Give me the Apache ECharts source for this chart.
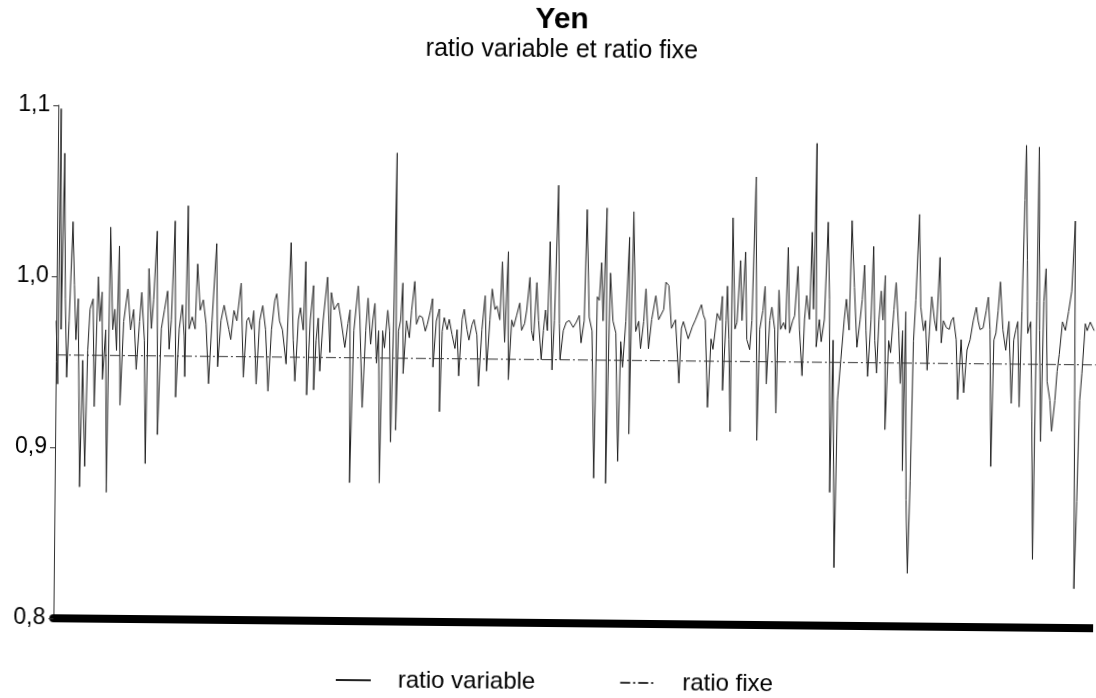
<!DOCTYPE html>
<html>
<head>
<meta charset="utf-8">
<title>Yen</title>
<script src="https://cdn.jsdelivr.net/npm/echarts@6/dist/echarts.min.js"></script>
<style>
  html, body { margin: 0; padding: 0; background: #fff; overflow: hidden; }
  /* the scanned original is tilted a little, so the chart is too */
  #main { width: 1096px; height: 698px; transform: rotate(0.55deg); transform-origin: 548px 349px; }
</style>
</head>
<body>
<div id="main"></div>
<script>
var obs = [
  0, 2, 3, 5, 7, 9, 11, 13, 16, 18,
  20, 22, 25, 27, 30, 32, 34, 37, 39, 42,
  44, 46, 47, 50, 52, 54, 57, 59, 61, 63,
  65, 68, 72, 75, 78, 81, 84, 86, 89, 91,
  93, 96, 98, 101, 103, 106, 109, 112, 114, 116,
  119, 121, 124, 127, 129, 130, 132, 134, 137, 140,
  142, 145, 148, 151, 154, 157, 161, 163, 166, 169,
  171, 174, 176, 179, 182, 186, 189, 192, 194, 197,
  199, 202, 205, 208, 211, 214, 217, 220, 222, 225,
  228, 232, 236, 239, 241, 244, 246, 249, 251, 253,
  256, 259, 260, 262, 264, 266, 269, 273, 276, 277,
  280, 284, 287, 291, 294, 296, 297, 300, 304, 306,
  309, 312, 314, 317, 319, 321, 323, 325, 327, 329,
  331, 334, 336, 338, 340, 342, 343, 345, 347, 349,
  350, 353, 356, 358, 361, 363, 366, 369, 372, 374,
  377, 379, 380, 383, 386, 387, 389, 391, 394, 396,
  399, 402, 404, 406, 409, 411, 414, 416, 419, 421,
  424, 426, 429, 432, 434, 437, 439, 442, 444, 447,
  449, 452, 455, 456, 459, 461, 464, 467, 469, 472,
  474, 477, 479, 481, 484, 486, 489, 491, 493, 495,
  497, 500, 502, 505, 507, 508, 511, 514, 517, 521,
  524, 527, 529, 532, 534, 537, 540, 543, 545, 547,
  549, 551, 554, 555, 558, 561, 564, 567, 569, 571,
  574, 577, 578, 581, 584, 587, 589, 592, 594, 597,
  600, 604, 607, 609, 612, 614, 617, 620, 624, 628,
  630, 632, 634, 637, 641, 644, 646, 650, 652, 654,
  657, 660, 662, 666, 669, 671, 672, 675, 676, 678,
  680, 681, 684, 686, 689, 691, 694, 696, 699, 701,
  704, 707, 709, 712, 714, 716, 719, 721, 724, 726,
  728, 730, 733, 735, 737, 739, 742, 744, 747, 749,
  752, 754, 756, 759, 761, 763, 765, 766, 769, 771,
  774, 777, 779, 781, 783, 786, 788, 791, 794, 796,
  799, 801, 804, 807, 810, 812, 814, 816, 818, 821,
  823, 825, 827, 829, 831, 833, 835, 836, 839, 841,
  844, 846, 849, 851, 853, 854, 856, 858, 860, 862,
  864, 866, 869, 871, 874, 876, 878, 880, 882, 885,
  887, 890, 892, 894, 897, 900, 902, 904, 907, 909,
  912, 915, 918, 921, 924, 927, 929, 931, 934, 937,
  939, 941, 943, 945, 947, 949, 951, 954, 957, 960,
  963, 965, 967, 969, 971, 973, 975, 976, 978, 979,
  982, 984, 986, 988, 989, 991, 993, 995, 997, 999,
  1002, 1004, 1007, 1009, 1011, 1014, 1017, 1020, 1023, 1026,
  1028, 1030, 1032, 1034, 1037, 1039, 1042, 1046
];

var ratioVariable = [
  0.974, 0.937, 1.098, 0.969, 1.072, 0.987, 0.941, 0.974, 1.032, 0.995,
  0.963, 0.987, 0.877, 0.951, 0.889, 0.957, 0.981, 0.987, 0.924, 1.000,
  0.974, 0.991, 0.940, 0.969, 0.874, 1.029, 0.969, 0.981, 0.957, 1.018,
  0.925, 0.974, 0.993, 0.969, 0.981, 0.946, 0.974, 0.991, 0.963, 0.891,
  1.005, 0.970, 0.987, 1.027, 0.908, 0.970, 0.981, 0.992, 0.958, 0.975,
  1.033, 0.930, 0.970, 0.984, 0.966, 0.942, 1.042, 0.970, 0.977, 0.970,
  1.008, 0.981, 0.987, 0.973, 0.938, 0.975, 1.020, 0.948, 0.975, 0.984,
  0.985, 0.970, 0.964, 0.981, 0.975, 0.997, 0.942, 0.975, 0.977, 0.970,
  0.981, 0.938, 0.975, 0.984, 0.970, 0.934, 0.970, 0.987, 0.991, 0.975,
  0.970, 0.950, 1.021, 0.964, 0.940, 0.976, 0.983, 0.970, 1.010, 0.932,
  0.976, 0.996, 0.935, 0.964, 0.977, 0.946, 0.976, 1.001, 0.957, 0.992,
  0.982, 0.986, 0.976, 0.960, 0.974, 0.982, 0.881, 0.970, 0.996, 0.976,
  0.925, 0.970, 0.989, 0.962, 0.976, 0.986, 0.951, 0.970, 0.881, 0.970,
  0.960, 0.982, 0.970, 0.905, 0.976, 1.074, 0.912, 0.970, 0.976, 0.998,
  0.945, 0.976, 0.966, 0.982, 0.999, 0.974, 0.979, 0.978, 0.970, 0.974,
  0.982, 0.989, 0.949, 0.976, 0.983, 0.923, 0.970, 0.978, 0.971, 0.977,
  0.968, 0.960, 0.971, 0.944, 0.977, 0.983, 0.971, 0.965, 0.974, 0.977,
  0.968, 0.938, 0.971, 0.991, 0.947, 0.977, 0.995, 0.983, 0.985, 0.977,
  1.011, 0.964, 1.017, 0.942, 0.977, 0.973, 0.980, 0.987, 0.971, 0.975,
  0.983, 1.002, 0.971, 0.965, 0.999, 0.977, 0.954, 0.971, 0.983, 0.971,
  1.023, 0.948, 0.977, 1.056, 0.975, 0.954, 0.971, 0.976, 0.977, 0.973,
  0.976, 0.980, 0.964, 0.977, 1.042, 0.979, 0.971, 0.885, 0.991, 0.989,
  1.011, 0.977, 1.043, 0.882, 1.005, 0.977, 0.970, 0.895, 0.965, 0.950,
  0.977, 1.026, 0.911, 1.041, 0.971, 0.977, 0.961, 0.977, 0.996, 0.961,
  0.978, 0.992, 0.978, 0.977, 0.984, 1.000, 0.998, 0.973, 0.978, 0.941,
  0.973, 0.977, 0.973, 0.967, 0.974, 0.978, 0.977, 0.987, 0.981, 0.978,
  0.927, 0.967, 0.961, 0.982, 0.978, 0.992, 0.937, 0.978, 0.998, 0.967,
  0.913, 1.038, 0.973, 0.977, 1.013, 0.978, 1.018, 0.967, 0.961, 0.978,
  1.062, 0.908, 0.973, 0.984, 0.998, 0.941, 0.978, 0.986, 0.973, 0.924,
  0.996, 0.973, 0.977, 0.973, 1.021, 0.971, 0.978, 0.981, 1.010, 0.973,
  0.946, 0.979, 0.993, 0.979, 1.030, 0.985, 1.082, 0.963, 0.979, 0.966,
  0.979, 1.036, 0.991, 0.878, 0.967, 0.834, 0.932, 0.956, 0.979, 0.991,
  0.973, 1.037, 0.998, 0.963, 0.979, 0.991, 1.011, 0.973, 0.946, 0.979,
  1.022, 0.967, 0.948, 0.979, 0.996, 0.979, 1.005, 0.915, 0.967, 0.960,
  0.985, 1.001, 0.973, 0.942, 0.973, 0.891, 0.984, 0.874, 0.831, 0.885,
  0.967, 0.991, 1.041, 0.987, 0.973, 0.979, 0.950, 0.973, 0.993, 0.979,
  0.973, 1.016, 0.966, 0.979, 0.975, 0.974, 0.979, 0.981, 0.968, 0.933,
  0.968, 0.937, 0.962, 0.968, 0.979, 0.987, 0.979, 0.974, 0.975, 0.985,
  0.993, 0.974, 0.894, 0.968, 0.972, 0.985, 1.002, 0.974, 0.962, 0.979,
  0.931, 0.968, 0.974, 0.979, 0.929, 0.985, 1.050, 1.082, 1.015, 0.972,
  0.979, 0.921, 0.840, 0.991, 1.081, 0.974, 0.909, 0.991, 1.010, 0.944,
  0.933, 0.915, 0.933, 0.950, 0.960, 0.979, 0.974, 0.985, 0.997, 1.038,
  0.823, 0.874, 0.933, 0.949, 0.978, 0.974, 0.979, 0.974
];

// the fixed ratio is a flat line over the whole period
var fixedObs = [0, 1048];
var ratioFixe = [0.954, 0.954];

var yTicks = [0.8, 0.9, 1.0, 1.1];

var font = 'Liberation Sans, Arial, sans-serif';

function zip(xs, ys) {
  var out = [];
  for (var i = 0; i < xs.length; i++) out.push([xs[i], ys[i]]);
  return out;
}

var myChart = echarts.init(document.getElementById('main'));
myChart.setOption({
  animation: false,
  backgroundColor: '#fff',
  title: {
    text: 'Yen',
    subtext: 'ratio variable et ratio fixe',
    left: 554,
    top: 0,
    textAlign: 'center',
    itemGap: 3,
    textStyle: { fontFamily: font, fontSize: 30, fontWeight: 'bold', color: '#000' },
    subtextStyle: { fontFamily: font, fontSize: 25, color: '#000' }
  },
  legend: {
    data: ['ratio variable', 'ratio fixe'],
    left: 333,
    top: 665,
    itemWidth: 35,
    itemHeight: 14,
    itemGap: 84,
    itemStyle: { opacity: 0 }, // pas de symbole, juste le trait
    textStyle: { fontFamily: font, fontSize: 24, color: '#000', padding: [0, 0, 0, 22] }
  },
  grid: { left: 56, right: -8, top: 110, bottom: 75 },
  xAxis: {
    type: 'value',
    min: fixedObs[0],
    max: fixedObs[1],
    axisLine: { lineStyle: { color: '#000', width: 8 } }, // trait épais du bas
    axisTick: { show: false },
    axisLabel: { show: false },
    splitLine: { show: false }
  },
  yAxis: {
    type: 'value',
    min: yTicks[0],
    max: yTicks[yTicks.length - 1],
    interval: 0.1,
    axisLine: { show: true, lineStyle: { color: '#333', width: 1 } },
    axisTick: { show: true, length: 5, lineStyle: { color: '#333' } },
    axisLabel: {
      margin: 8,
      fontFamily: font,
      fontSize: 23,
      color: '#000',
      formatter: function (v) { return v.toFixed(1).replace('.', ','); }
    },
    splitLine: { show: false }
  },
  series: [
    {
      name: 'ratio variable',
      type: 'line',
      symbol: 'none',
      data: zip(obs, ratioVariable),
      lineStyle: { color: '#222', width: 1 },
      itemStyle: { color: '#222' }
    },
    {
      name: 'ratio fixe',
      type: 'line',
      symbol: 'none',
      data: zip(fixedObs, ratioFixe),
      lineStyle: { color: '#333', width: 1, type: [10, 3, 2, 3] },
      itemStyle: { color: '#333' }
    }
  ]
});
</script>
</body>
</html>
